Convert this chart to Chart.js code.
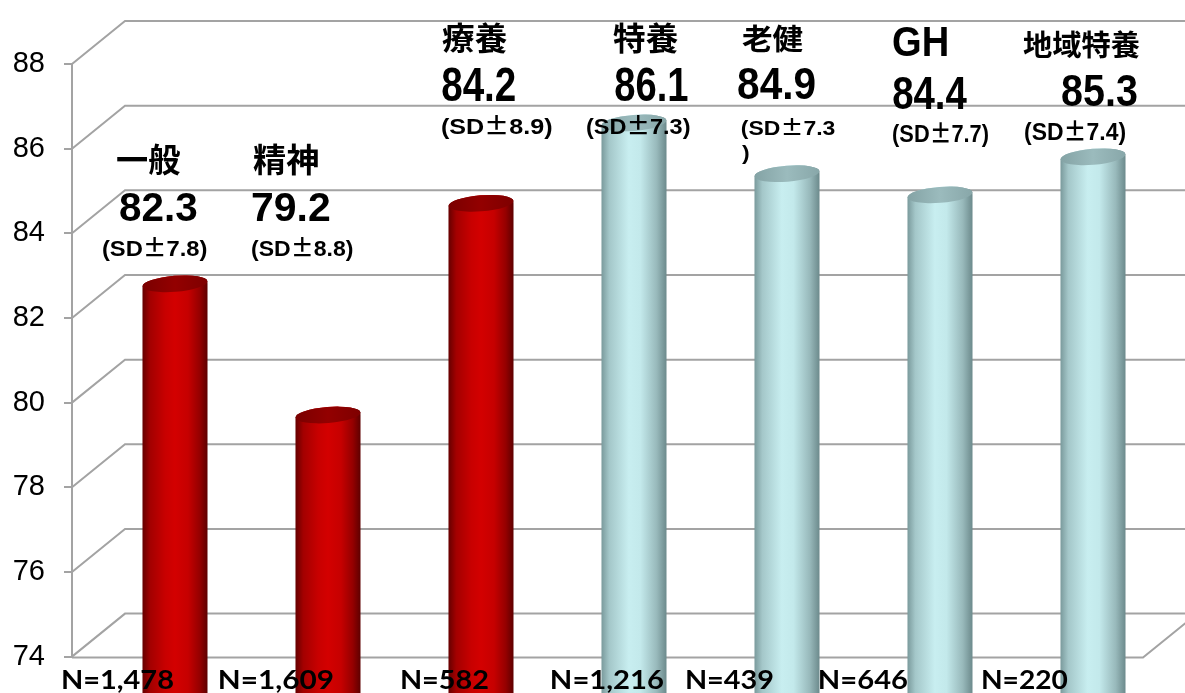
<!DOCTYPE html>
<html>
<head>
<meta charset="utf-8">
<script src="https://cdn.jsdelivr.net/npm/chart.js@4/dist/chart.umd.min.js"></script>
<style>
  html, body { margin: 0; padding: 0; background: #fff; }
  #wrap { width: 1185px; height: 693px; }
</style>
</head>
<body>
<div id="wrap"><canvas id="chart" width="1185" height="693"></canvas></div>
<script>
// ---- data ----
const categories  = ['一般', '精神', '療養', '特養', '老健', 'GH', '地域特養'];
const scores      = [82.3, 79.2, 84.2, 86.1, 84.9, 84.4, 85.3];
const sdValues    = [7.8, 8.8, 8.9, 7.3, 7.3, 7.7, 7.4];
const sampleSizes = [1478, 1609, 582, 1216, 439, 646, 220];
const groupTone   = ['red', 'red', 'red', 'cyan', 'cyan', 'cyan', 'cyan'];
const yMin = 74, yMax = 88, yStep = 2;

// ---- layout / style ----
const DEPTH_X = 53, DEPTH_Y = 43;     // offset from the front plane to the back wall
const BAR_DEPTH = 0.5;                // cylinders stand half way into the box
const GRID_COLOR = '#a3a3a3';
const LATIN = "'Liberation Sans', 'Noto Sans CJK JP', sans-serif";
const CJK = "'Noto Sans CJK JP', sans-serif";
const N_FONT = "Lato, 'Liberation Sans', sans-serif";

// label boxes per category: [dx from category centre, top, ink width, ink height]
const labelLayout = [
  { name: [-31.5, 143, 63, 32],  value: [-28.5, 193, 77, 29], sd: [-45.5, 237, 104, 23] },
  { name: [-48.5, 143, 65, 32],  value: [-49.5, 193, 78, 29], sd: [-49.5, 237, 101, 23] },
  { name: [-12.5, 22, 65, 30],   value: [-12.5, 67, 73, 34],  sd: [-12.5, 115, 110, 23] },
  { name: [5.5, 22, 65, 30],     value: [7.5, 67, 73, 34],    sd: [-20.5, 115, 103, 23] },
  { name: [-18.5, 24, 61, 28],   value: [-22.5, 68, 77, 32],  sd: [-18.5, 117, 93, 21], wrapTop: 145 },
  { name: [-20.5, 27, 54, 30],   value: [-20.5, 77, 74, 33],  sd: [-20.5, 122, 95, 25] },
  { name: [-43.5, 30, 117, 28],  value: [-4.5, 75, 75, 32],   sd: [-41.5, 120, 100, 25] }
];
// sample-size labels under the floor: [dx from category centre, ink width]
const nLayout = [[-85.5, 110], [-81.5, 113], [-52.5, 86], [-55.5, 111], [-73.5, 86], [-93.5, 87], [-83.5, 85]];
const N_TOP = 670, N_CAP = 20;

const tones = {
  red: {
    body: [[0, '#660000'], [0.12, '#a30000'], [0.35, '#c80000'], [0.5, '#d30000'], [0.7, '#c60000'], [0.88, '#950000'], [1, '#5e0000']],
    top:  [[0, '#7a0000'], [0.5, '#930000'], [1, '#7e0000']]
  },
  cyan: {
    body: [[0, '#7a9a9c'], [0.12, '#a4c7c9'], [0.42, '#c8eef0'], [0.6, '#c3e9eb'], [0.85, '#98b9bb'], [1, '#6c8a8c']],
    top:  [[0, '#84a3a5'], [0.5, '#9bbbbd'], [1, '#88a7a9']]
  }
};

function gradient(ctx, x0, x1, stops) {
  const g = ctx.createLinearGradient(x0, 0, x1, 0);
  stops.forEach(([o, c]) => g.addColorStop(o, c));
  return g;
}

function drawCylinder(ctx, cx, top, bottom, w, tone) {
  const rx = w / 2, ry = 8, tilt = -0.08;
  const l = cx - rx, r = cx + rx;
  ctx.save();
  ctx.beginPath();
  ctx.moveTo(l, top);
  ctx.lineTo(l, bottom);
  ctx.ellipse(cx, bottom, rx, ry, tilt, Math.PI, 0, true);
  ctx.lineTo(r, top);
  ctx.ellipse(cx, top, rx, ry, tilt, 0, Math.PI, true);
  ctx.closePath();
  ctx.fillStyle = gradient(ctx, l, r, tones[tone].body);
  ctx.fill();
  ctx.beginPath();
  ctx.ellipse(cx, top, rx, ry, tilt, 0, Math.PI * 2);
  ctx.fillStyle = gradient(ctx, l, r, tones[tone].top);
  ctx.fill();
  ctx.restore();
}

// lays out runs of text (each with its own font) at a given size
function measureRuns(ctx, runs, size) {
  let x = 0, left = null, right = 0, asc = 0, desc = 0;
  const parts = runs.map(r => {
    const font = `bold ${size}px ${r.font}`;
    ctx.font = font;
    const m = ctx.measureText(r.text);
    if (left === null) left = m.actualBoundingBoxLeft;
    right = x + m.actualBoundingBoxRight;
    asc = Math.max(asc, m.actualBoundingBoxAscent);
    desc = Math.max(desc, m.actualBoundingBoxDescent);
    const p = { text: r.text, font, x };
    x += m.width;
    return p;
  });
  return { parts, left, right, asc, desc };
}

// draws the runs so that their ink fills the given box
function fitRuns(ctx, runs, box, ref) {
  const [x, y, w, h] = box;
  const heightOf = size => {
    if (ref) {
      ctx.font = `bold ${size}px ${runs[0].font}`;
      const m = ctx.measureText(ref);
      return { asc: m.actualBoundingBoxAscent, h: m.actualBoundingBoxAscent + m.actualBoundingBoxDescent };
    }
    const l = measureRuns(ctx, runs, size);
    return { asc: l.asc, h: l.asc + l.desc };
  };
  const size = 100 * h / heightOf(100).h;
  const lay = measureRuns(ctx, runs, size);
  const asc = heightOf(size).asc;
  const sx = w / (lay.left + lay.right);
  ctx.save();
  ctx.translate(x, y);
  ctx.scale(sx, 1);
  ctx.textAlign = 'left';
  ctx.textBaseline = 'alphabetic';
  lay.parts.forEach(p => {
    ctx.font = p.font;
    ctx.fillText(p.text, lay.left + p.x, asc);
  });
  ctx.restore();
  return { size, sx };
}

// "(SD±7.8)" split so the ± sign comes from the CJK face
function sdRuns(sd, closing) {
  return [
    { text: '(SD', font: LATIN },
    { text: '±', font: CJK },
    { text: sd.toFixed(1) + (closing ? ')' : ''), font: LATIN }
  ];
}

const boxPlugin = {
  id: 'box3d',
  beforeDatasetsDraw(chart) {
    const { ctx, chartArea: a, scales: { y } } = chart;
    ctx.save();
    ctx.strokeStyle = GRID_COLOR;
    ctx.lineWidth = 2;
    // side wall diagonals and back wall lines
    for (let v = yMin; v <= yMax; v += yStep) {
      const py = y.getPixelForValue(v);
      ctx.beginPath();
      ctx.moveTo(a.left, py);
      ctx.lineTo(a.left + DEPTH_X, py - DEPTH_Y);
      ctx.lineTo(chart.width, py - DEPTH_Y);
      ctx.stroke();
    }
    // floor front edge and right edge
    const fb = y.getPixelForValue(yMin) + 1;
    ctx.beginPath();
    ctx.moveTo(a.left, fb);
    ctx.lineTo(a.right, fb);
    ctx.lineTo(a.right + DEPTH_X, fb - DEPTH_Y);
    ctx.stroke();
    ctx.restore();
  },
  afterDatasetsDraw(chart) {
    const { ctx } = chart;
    const meta = chart.getDatasetMeta(0);
    const sx = DEPTH_X * BAR_DEPTH, sy = DEPTH_Y * BAR_DEPTH;
    meta.data.forEach((bar, i) => {
      const p = bar.getProps(['x', 'y', 'base', 'width'], true);
      drawCylinder(ctx, p.x + sx, p.y - sy, p.base - sy, p.width, groupTone[i]);
    });
  },
  afterDraw(chart) {
    const { ctx } = chart;
    const meta = chart.getDatasetMeta(0);
    ctx.save();
    ctx.fillStyle = '#000';
    meta.data.forEach((bar, i) => {
      const cx = bar.x;
      const L = labelLayout[i];
      const at = b => [cx + b[0], b[1], b[2], b[3]];
      const isCjk = /[^\x00-\x7f]/.test(categories[i]);
      fitRuns(ctx, [{ text: categories[i], font: isCjk ? CJK : LATIN }], at(L.name));
      fitRuns(ctx, [{ text: scores[i].toFixed(1), font: LATIN }], at(L.value));
      if (L.wrapTop) {
        const f = fitRuns(ctx, sdRuns(sdValues[i], false), at(L.sd));
        ctx.font = `bold ${f.size}px ${LATIN}`;
        const m = ctx.measureText(')');
        ctx.save();
        ctx.translate(cx + L.sd[0], L.wrapTop);
        ctx.scale(f.sx, 1);
        ctx.fillText(')', m.actualBoundingBoxLeft, m.actualBoundingBoxAscent);
        ctx.restore();
      } else {
        fitRuns(ctx, sdRuns(sdValues[i], true), at(L.sd));
      }
      const [ndx, nw] = nLayout[i];
      fitRuns(ctx, [{ text: 'N=' + sampleSizes[i].toLocaleString('en-US'), font: N_FONT }],
        [cx + ndx, N_TOP, nw, N_CAP], 'N');
    });
    ctx.restore();
  }
};

new Chart(document.getElementById('chart'), {
  type: 'bar',
  data: {
    labels: categories,
    datasets: [{
      data: scores,
      backgroundColor: 'rgba(0,0,0,0)',
      borderWidth: 0,
      categoryPercentage: 1,
      barPercentage: 0.425
    }]
  },
  options: {
    responsive: false,
    animation: false,
    devicePixelRatio: 1,
    layout: { padding: { top: 64, right: 42, bottom: 34, left: 0 } },
    plugins: { legend: { display: false }, tooltip: { enabled: false } },
    scales: {
      x: { display: false },
      y: {
        min: yMin,
        max: yMax,
        afterFit(scale) { scale.width = 72; },
        ticks: {
          stepSize: yStep,
          padding: 19,
          color: '#000',
          font: { family: "'Liberation Sans', Arial, sans-serif", size: 29 }
        },
        grid: { drawOnChartArea: false, tickLength: 8, color: GRID_COLOR, lineWidth: 2 },
        border: { display: true, color: GRID_COLOR, width: 2 }
      }
    }
  },
  plugins: [boxPlugin]
});
</script>
</body>
</html>
